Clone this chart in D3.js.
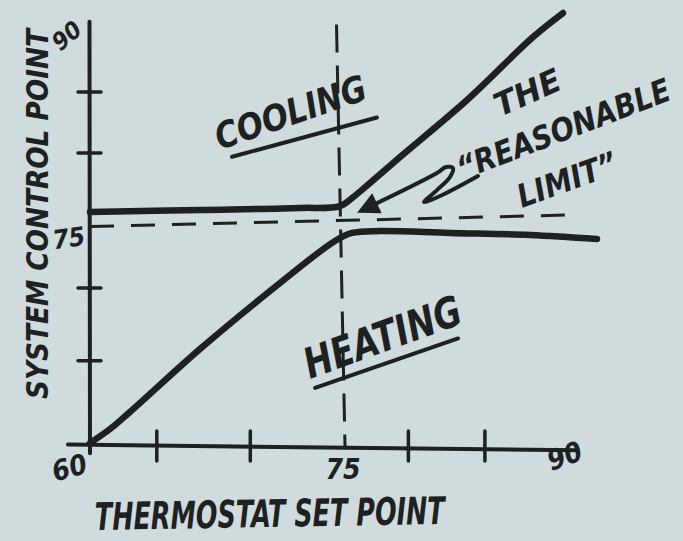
<!DOCTYPE html>
<html>
<head>
<meta charset="utf-8">
<script src="https://cdn.jsdelivr.net/npm/d3@7"></script>
<style>
  body { margin: 0; background: #cfdbdc; }
  svg { display: block; }
  .hand {
    font-family: "Liberation Sans Narrow", "DejaVu Sans Condensed", sans-serif;
    font-weight: bold;
    font-style: italic;
    fill: #1d2122;
  }
</style>
</head>
<body>
<svg id="chart"></svg>
<script>
// thermostat set point (x) vs system control point (y)
const heatingSet  = [60, 61.18, 62.35, 66.47, 70.59, 74.41, 75.41, 77.06, 81.18, 85.88, 89.82];
const heatingCtrl = [60.21, 61.17, 62.34, 66.67, 70.66, 74.11, 74.66, 74.79, 74.66, 74.52, 74.24];

const coolingSet  = [60, 66.47, 72.35, 74.71, 75.41, 76.47, 78.24, 82.18, 86.06, 87.82];
const coolingCtrl = [76.1, 76.24, 76.38, 76.51, 77.06, 78.10, 79.89, 83.81, 88.14, 89.79];

// dashed guide lines at 75
const limitSet = [60, 88.4];
const limitCtrl = [75.1, 75.9];
const midSet = [74.5, 75];
const midCtrl = [89, 60];

// the "2" shaped arrow
const arrowSet  = [76.18, 80.41, 80.94, 81.35, 81.18, 80.41, 79.65, 80.59, 82.82];
const arrowCtrl = [76.31, 78.78, 79.20, 79.13, 78.51, 77.61, 76.79, 77.20, 78.58];

const xTicks = [63.9, 69.4, 78.7, 83.2];
const yTicks = [65.9, 70.9, 80.2, 84.4];
const tickLabels = ["60", "75", "90"];

const width = 683, height = 541;
const ink = "#1d2122";

const svg = d3.select("#chart").attr("width", width).attr("height", height);

const x = d3.scaleLinear().domain([60, 90]).range([90, 600]);
const y = d3.scaleLinear().domain([60, 90]).range([446, 10]);

const line = d3.line().x(d => x(d[0])).y(d => y(d[1])).curve(d3.curveCatmullRom);
const straight = d3.line().x(d => x(d[0])).y(d => y(d[1]));

svg.append("defs").append("marker")
    .attr("id", "head")
    .attr("viewBox", "0 0 10 10")
    .attr("refX", 6)
    .attr("refY", 5)
    .attr("markerWidth", 7)
    .attr("markerHeight", 5.5)
    .attr("orient", "auto-start-reverse")
    .append("path")
    .attr("d", "M0,0 L10,5 L0,10 z")
    .attr("fill", ink);

// axes
let xAxisG = svg.append("g")
    .attr("transform", `translate(0,${y(60)})`)
    .call(d3.axisBottom(x).tickValues(xTicks).tickFormat("").tickSizeOuter(0));
xAxisG.select(".domain").remove();
xAxisG.selectAll(".tick line")
    .attr("y1", -15).attr("y2", 15)
    .attr("stroke", ink).attr("stroke-width", 3.5).attr("stroke-linecap", "round");

let yAxisG = svg.append("g")
    .attr("transform", `translate(${x(60)},0)`)
    .call(d3.axisLeft(y).tickValues(yTicks).tickFormat("").tickSizeOuter(0));
yAxisG.select(".domain").remove();
yAxisG.selectAll(".tick line")
    .attr("x1", -12).attr("x2", 11)
    .attr("stroke", ink).attr("stroke-width", 3.5).attr("stroke-linecap", "round");

svg.append("path")
    .attr("d", straight([[58.7, 60.1], [88.6, 59.7]]))
    .attr("fill", "none").attr("stroke", ink).attr("stroke-width", 4).attr("stroke-linecap", "round");
svg.append("path")
    .attr("d", straight([[60, 59.5], [59.97, 89.2]]))
    .attr("fill", "none").attr("stroke", ink).attr("stroke-width", 4).attr("stroke-linecap", "round");

// dashed guides
svg.append("path")
    .attr("d", straight(d3.zip(limitSet, limitCtrl)))
    .attr("fill", "none").attr("stroke", ink).attr("stroke-width", 3)
    .attr("stroke-dasharray", "24,17");
svg.append("path")
    .attr("d", straight(d3.zip(midSet, midCtrl)))
    .attr("fill", "none").attr("stroke", ink).attr("stroke-width", 3)
    .attr("stroke-dasharray", "28,13");

// heating and cooling control lines
svg.append("path")
    .attr("d", line(d3.zip(heatingSet, heatingCtrl)))
    .attr("fill", "none").attr("stroke", ink).attr("stroke-width", 6.5)
    .attr("stroke-linecap", "round").attr("stroke-linejoin", "round");
svg.append("path")
    .attr("d", line(d3.zip(coolingSet, coolingCtrl)))
    .attr("fill", "none").attr("stroke", ink).attr("stroke-width", 6.5)
    .attr("stroke-linecap", "round").attr("stroke-linejoin", "round");

// arrow
svg.append("path")
    .attr("d", line(d3.zip(arrowSet, arrowCtrl)))
    .attr("fill", "none").attr("stroke", ink).attr("stroke-width", 4)
    .attr("stroke-linecap", "round").attr("stroke-linejoin", "round")
    .attr("marker-start", "url(#head)");

function note(txt, px, py, rot, size, len, anchor) {
    let t = svg.append("text")
        .attr("class", "hand")
        .attr("transform", `translate(${px},${py}) rotate(${rot})`)
        .attr("font-size", size)
        .attr("text-anchor", anchor || "start")
        .text(txt);
    if (len) t.attr("textLength", len).attr("lengthAdjust", "spacingAndGlyphs");
    return t;
}

// region labels with underline
note("COOLING", 220, 150, -19, 36, 158);
svg.append("path")
    .attr("d", straight([[68.35, 79.9], [76.88, 82.6]]))
    .attr("fill", "none").attr("stroke", ink).attr("stroke-width", 4).attr("stroke-linecap", "round");

note("HEATING", 310, 379, -20, 42, 165);
svg.append("path")
    .attr("d", straight([[73.24, 64.0], [81.65, 67.4]]))
    .attr("fill", "none").attr("stroke", ink).attr("stroke-width", 4).attr("stroke-linecap", "round");

note("THE", 500, 117, -24, 32, 70);
note("\u201CREASONABLE", 462, 180, -21, 32, 226);
note("LIMIT\u201D", 522, 208, -20, 32, 104);

// tick labels
note(tickLabels[0], 72, 477, -15, 28, null, "middle");
note(tickLabels[1], 343, 479, 0, 28, null, "middle");
note(tickLabels[2], 568, 465, -20, 28, null, "middle");
note(tickLabels[1], 70, 247, -8, 26, null, "middle");
note(tickLabels[2], 72, 42, -40, 24, null, "middle");

// axis titles
note("SYSTEM CONTROL POINT", 48, 214, -90, 30, 370, "middle");
note("THERMOSTAT SET POINT", 95, 530, -1, 38, 350);
</script>
</body>
</html>
